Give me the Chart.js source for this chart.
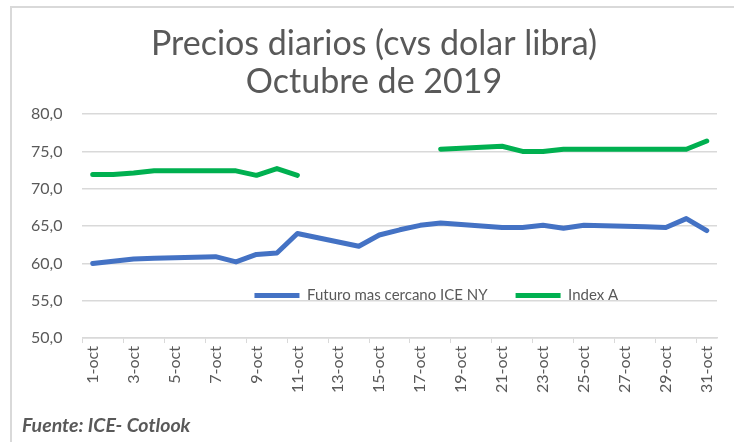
<!DOCTYPE html>
<html lang="es">
<head>
<meta charset="utf-8">
<title>Precios diarios octubre 2019</title>
<script src="https://cdn.jsdelivr.net/npm/chart.js@4/dist/chart.umd.min.js"></script>
<style>
  html, body { margin: 0; padding: 0; background: #fff; }
  #lienzo { position: relative; width: 734px; height: 442px; overflow: hidden; }
  #marco { position: absolute; left: 10px; top: 6px; width: 800px; height: 500px;
           border-left: 2px solid #d9d9d9; border-top: 2px solid #d9d9d9; }
  #grafico { position: absolute; left: 0; top: 0; }
  #fuente { position: absolute; left: 22px; top: 413px; margin: 0;
            font: italic bold 19.5px Lato, sans-serif; color: #595959; }
</style>
</head>
<body>
<div id="lienzo">
  <div id="marco"></div>
  <canvas id="grafico" width="734" height="442"></canvas>
  <p id="fuente">Fuente: ICE- Cotlook</p>
</div>
<script>
// Dias del mes (eje x)
const dias = [
  "1-oct", "2-oct", "3-oct", "4-oct", "5-oct", "6-oct", "7-oct", "8-oct",
  "9-oct", "10-oct", "11-oct", "12-oct", "13-oct", "14-oct", "15-oct", "16-oct",
  "17-oct", "18-oct", "19-oct", "20-oct", "21-oct", "22-oct", "23-oct", "24-oct",
  "25-oct", "26-oct", "27-oct", "28-oct", "29-oct", "30-oct", "31-oct"
];

// Futuro mas cercano ICE NY (null = sin cotizacion)
const futuroNY = [
  60.0, 60.3, 60.6, 60.7, null, null, 60.9, 60.2,
  61.2, 61.4, 64.0, null, null, 62.3, 63.8, 64.5,
  65.1, 65.4, null, null, 64.8, 64.8, 65.1, 64.7,
  65.1, null, null, 64.9, 64.8, 66.0, 64.4
];

// Index A
const indexA = [
  71.9, 71.9, 72.1, 72.4, null, null, 72.4, 72.4,
  71.8, 72.7, 71.8, null, null, null, null, null,
  null, 75.3, null, null, 75.7, 75.0, 75.0, 75.3,
  75.3, null, null, 75.3, 75.3, 75.3, 76.4
];

const nombresSeries = ["Futuro mas cercano ICE NY", "Index A"];
const titulo = ["Precios diarios (cvs dolar libra)", "Octubre de 2019"];

const azul = "#4472C4";
const verde = "#00B050";
const gris = "#595959";
const grisLinea = "#d9d9d9";
const invisible = "rgba(0,0,0,0)";

// true si el tramo cae en un hueco de mas de un fin de semana
function huecoLargo(serie, i0, i1) {
  let a = i0;
  while (a > 0 && serie[a] === null) a--;
  let b = i1;
  while (b < serie.length - 1 && serie[b] === null) b++;
  return b - a > 3;
}

// Lleva la leyenda dentro del area del grafico y corre un poco el titulo
const ubicarLeyenda = {
  id: "ubicarLeyenda",
  afterLayout(chart) {
    const leyenda = chart.legend;
    const area = chart.chartArea;
    const etiquetas = leyenda.options.labels;
    const pad = etiquetas.padding;
    const mitad = etiquetas.font.size / 2;
    const centroY = chart.scales.y.getPixelForValue(55.7);
    leyenda.left = area.left + 144;
    leyenda.right = area.right;
    leyenda.width = leyenda.right - leyenda.left;
    leyenda.top = centroY - pad - mitad;
    leyenda.bottom = leyenda.top + 2 * pad + 2 * mitad;
    leyenda.height = leyenda.bottom - leyenda.top;

    const tit = chart.titleBlock;
    tit.left += 10;
    tit.right += 10;
  }
};

function datosGrafico() {
  const comun = {
    borderWidth: 5,
    pointRadius: 0,
    tension: 0,
    spanGaps: true,
    borderCapStyle: "round",
    borderJoinStyle: "round"
  };
  return {
    labels: dias,
    datasets: [
      { ...comun, label: nombresSeries[0], data: futuroNY, borderColor: azul, backgroundColor: azul },
      {
        ...comun, label: nombresSeries[1], data: indexA, borderColor: verde, backgroundColor: verde,
        segment: {
          borderColor: (ctx) => (huecoLargo(indexA, ctx.p0DataIndex, ctx.p1DataIndex) ? invisible : verde)
        }
      }
    ]
  };
}

function renderGrafica() {
  const canvas = document.querySelector("#grafico");
  const fuente = { family: "Lato, sans-serif", size: 16 };
  new Chart(canvas, {
    type: "line",
    data: datosGrafico(),
    options: {
      responsive: false,
      animation: false,
      layout: { padding: { left: 11, right: 17, top: 0, bottom: 45 } },
      plugins: {
        title: {
          display: true,
          text: titulo,
          color: gris,
          font: { family: "Lato, sans-serif", size: 34, weight: "normal", lineHeight: 1.09 },
          padding: { top: 26, bottom: 14 }
        },
        legend: {
          position: "bottom",
          align: "start",
          maxHeight: 1,
          labels: {
            color: gris,
            font: { family: "Lato, sans-serif", size: 15 },
            usePointStyle: true,
            pointStyle: "line",
            pointStyleWidth: 45,
            boxWidth: 45,
            padding: 28
          }
        },
        tooltip: { enabled: false }
      },
      scales: {
        x: {
          offset: true,
          grid: {
            offset: true,
            drawOnChartArea: false,
            drawTicks: true,
            tickLength: 5,
            color: (ctx) => (ctx.index % 2 === 0 ? grisLinea : invisible)
          },
          border: { color: grisLinea, width: 1.5 },
          ticks: {
            autoSkip: false,
            minRotation: 90,
            maxRotation: 90,
            padding: 3,
            color: gris,
            font: fuente,
            callback: (valor, i) => (i % 2 === 0 ? dias[i] : "")
          }
        },
        y: {
          min: 50,
          max: 80,
          grid: { color: grisLinea, lineWidth: 1.5, drawTicks: false },
          border: { display: false },
          ticks: {
            stepSize: 5,
            padding: 20,
            color: gris,
            font: fuente,
            callback: (valor) => valor.toFixed(1).replace(".", ",")
          }
        }
      }
    },
    plugins: [ubicarLeyenda]
  });
}

renderGrafica();
</script>
</body>
</html>
